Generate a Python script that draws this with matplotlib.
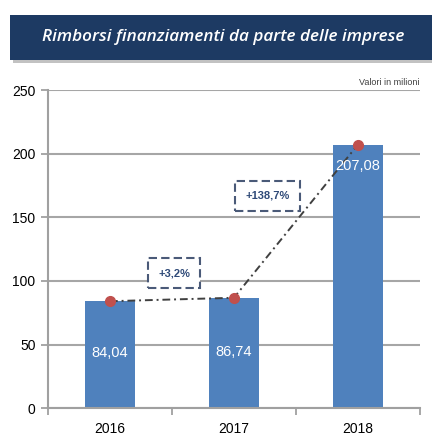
import matplotlib.pyplot as plt
from matplotlib.patches import Rectangle

# dati
anni = ["2016", "2017", "2018"]
valori = [84.04, 86.74, 207.08]
etichette = ["84,04", "86,74", "207,08"]
variazioni = ["+3,2%", "+138,7%"]
var_pos = [(0.52, 106), (1.27, 167)]   # posizione dei box (x, y in dati)

fig = plt.figure(figsize=(4.32, 4.37), dpi=100)
plt.rcParams['font.family'] = ['Liberation Sans', 'DejaVu Sans']

# banner titolo
shadow = Rectangle((0.03, 0.855), 0.98, 0.103, transform=fig.transFigure,
                   facecolor='#9a9a9a', edgecolor='none', alpha=0.6)
banner = Rectangle((0.023, 0.863), 0.98, 0.103, transform=fig.transFigure,
                   facecolor='#1d3a63', edgecolor='none')
fig.patches.extend([shadow, banner])
fig.text(0.517, 0.915, "Rimborsi finanziamenti da parte delle imprese",
         color='white', fontsize=12.3, style='italic', weight='semibold',
         ha='center', va='center', family=['Open Sans', 'DejaVu Sans'])

ax = fig.add_axes([0.111, 0.066, 0.861, 0.728])
x = range(len(anni))
ax.bar(x, valori, width=0.4, color='#4f81bd', zorder=2)
ax.plot(x, valori, linestyle=(0, (4, 2, 1, 2)), color='#404040', lw=1.4, zorder=3)
ax.plot(x, valori, 'o', color='#c0504d', ms=7, zorder=4)

for i, (v, t) in enumerate(zip(valori, etichette)):
    yy = v / 2 + 1 if v < 150 else v - 17
    ax.text(i, yy, t, color='white', fontsize=10.5, ha='center', va='center', zorder=5)

for (px, py), t in zip(var_pos, variazioni):
    ax.text(px, py, t, color='#2f4a78', fontsize=8, weight='bold', ha='center',
            va='center', zorder=5,
            bbox=dict(boxstyle='square,pad=0.9', facecolor='white', edgecolor='#4a5a78',
                      linestyle=(0, (4, 2)), lw=1.5))

ax.set_xlim(-0.5, 2.5)
ax.set_ylim(0, 250)
ax.set_yticks([0, 50, 100, 150, 200, 250])
ax.set_xticks(list(x))
ax.set_xticklabels(anni)
ax.set_xticks([-0.5, 0.5, 1.5, 2.5], minor=True)
ax.tick_params(axis='x', which='major', length=0, pad=10, labelsize=10)
ax.tick_params(axis='x', which='minor', length=5, color='#a0a0a0', width=1.3)
ax.tick_params(axis='y', length=5, color='#a0a0a0', width=1.3, labelsize=10, pad=4)
ax.yaxis.grid(True, color='#a6a6a6', lw=1.5, zorder=0)
ax.set_axisbelow(True)
for s in ['top', 'right']:
    ax.spines[s].set_visible(False)
for s in ['left', 'bottom']:
    ax.spines[s].set_color('#a0a0a0')
    ax.spines[s].set_linewidth(1.5)

ax.text(1.0, 1.008, "Valori in milioni", transform=ax.transAxes, fontsize=6.5,
        ha='right', va='bottom', color='#404040')

fig.savefig("out.png", dpi=100)
